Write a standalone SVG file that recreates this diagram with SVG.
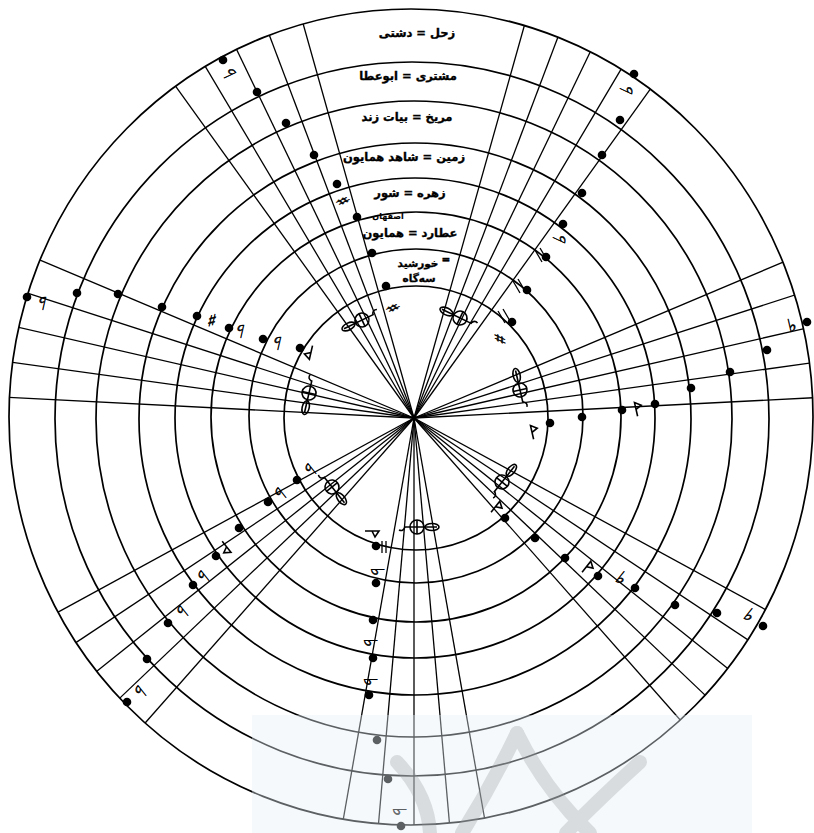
<svg xmlns="http://www.w3.org/2000/svg" width="814" height="833" viewBox="0 0 814 833">
<style>
.ring{fill:none;stroke:#000;stroke-width:1.7}
.st{stroke:#000;stroke-width:1.3;fill:none}
.lab{font-family:"DejaVu Sans",sans-serif;font-weight:bold;font-size:11.5px;fill:#000;stroke:#000;stroke-width:0.35;text-anchor:middle}
.acc{font-family:"DejaVu Sans",sans-serif;font-weight:bold;font-size:18px;fill:#000;stroke:#000;stroke-width:0.5;text-anchor:middle;dominant-baseline:central}
.n{fill:#000}
.cl{fill:none;stroke:#000;stroke-width:1.6}
.k{fill:none;stroke:#000;stroke-width:1.6}
.lg{stroke:#000;stroke-width:1.3}
</style>
<defs>
<clipPath id="outer"><ellipse cx="411" cy="417" rx="402" ry="408"/></clipPath>
<g id="clef">
<circle cx="0" cy="0" r="7" class="cl"/>
<line x1="-7" y1="0" x2="7" y2="0" class="cl"/>
<line x1="0" y1="-13" x2="0" y2="20" class="cl"/>
<ellipse cx="0" cy="15" rx="3.5" ry="7" class="cl"/>
<path d="M0,-12 q-5,-2 -3,-6" class="cl"/>
</g>
<path id="kor" d="M-2,7 V-7 L4,-3 L-2,0" class="k"/>
</defs>
<rect width="814" height="833" fill="#fff"/>
<g id="rings">
<circle class="ring" cx="416" cy="418" r="132"/>
<circle class="ring" cx="416" cy="416" r="167"/>
<circle class="ring" cx="416" cy="417" r="205"/>
<circle class="ring" cx="415" cy="418" r="240"/>
<circle class="ring" cx="415" cy="419" r="276"/>
<circle class="ring" cx="414" cy="419" r="318"/>
<circle class="ring" cx="412" cy="419" r="357"/>
<ellipse class="ring" cx="411" cy="417" rx="402" ry="408"/>
</g>
<g id="connectors" clip-path="url(#outer)">
<g id="staff-top-right">
<line class="st" x1="414" y1="418" x2="527.7" y2="13.7"/>
<line class="st" x1="414" y1="418" x2="562.5" y2="25.1"/>
<line class="st" x1="414" y1="418" x2="596.2" y2="39.5"/>
<line class="st" x1="414" y1="418" x2="628.4" y2="56.8"/>
<line class="st" x1="414" y1="418" x2="659.1" y2="76.9"/>
</g>
<g id="staff-right">
<line class="st" x1="414" y1="418" x2="800.9" y2="254.6"/>
<line class="st" x1="414" y1="418" x2="813.7" y2="288.9"/>
<line class="st" x1="414" y1="418" x2="823.4" y2="324.2"/>
<line class="st" x1="414" y1="418" x2="830.0" y2="360.3"/>
<line class="st" x1="414" y1="418" x2="833.5" y2="396.7"/>
</g>
<g id="staff-lower-right">
<line class="st" x1="414" y1="418" x2="782.8" y2="619.1"/>
<line class="st" x1="414" y1="418" x2="763.8" y2="650.4"/>
<line class="st" x1="414" y1="418" x2="742.2" y2="680.0"/>
<line class="st" x1="414" y1="418" x2="718.2" y2="707.6"/>
<line class="st" x1="414" y1="418" x2="691.7" y2="733.0"/>
</g>
<g id="staff-bottom">
<line class="st" x1="414" y1="418" x2="486.9" y2="831.6"/>
<line class="st" x1="414" y1="418" x2="450.6" y2="836.4"/>
<line class="st" x1="414" y1="418" x2="414" y2="838"/>
<line class="st" x1="414" y1="418" x2="377.4" y2="836.4"/>
<line class="st" x1="414" y1="418" x2="341.1" y2="831.6"/>
</g>
<g id="staff-lower-left">
<line class="st" x1="414" y1="418" x2="45.2" y2="619.1"/>
<line class="st" x1="414" y1="418" x2="64.2" y2="650.4"/>
<line class="st" x1="414" y1="418" x2="85.8" y2="680.0"/>
<line class="st" x1="414" y1="418" x2="109.8" y2="707.6"/>
<line class="st" x1="414" y1="418" x2="136.3" y2="733.0"/>
</g>
<g id="staff-left">
<line class="st" x1="414" y1="418" x2="27.1" y2="254.6"/>
<line class="st" x1="414" y1="418" x2="14.3" y2="288.9"/>
<line class="st" x1="414" y1="418" x2="4.6" y2="324.2"/>
<line class="st" x1="414" y1="418" x2="-2.0" y2="360.3"/>
<line class="st" x1="414" y1="418" x2="-5.5" y2="396.7"/>
</g>
<g id="staff-top-left">
<line class="st" x1="414" y1="418" x2="300.3" y2="13.7"/>
<line class="st" x1="414" y1="418" x2="265.5" y2="25.1"/>
<line class="st" x1="414" y1="418" x2="231.8" y2="39.5"/>
<line class="st" x1="414" y1="418" x2="199.6" y2="56.8"/>
<line class="st" x1="414" y1="418" x2="168.9" y2="76.9"/>
</g>
</g>
<g id="labels">
<text class="lab" x="417" y="37">زحل = دشتی</text>
<text class="lab" x="408" y="80">مشتری = ابوعطا</text>
<text class="lab" x="407" y="121">مریخ = بیات زند</text>
<text class="lab" x="404" y="161">زمین = شاهد همایون</text>
<text class="lab" x="410" y="197">زهره = شور</text>
<text class="lab" x="388" y="219" style="font-size:8px;stroke-width:0.1">اصفهان</text>
<text class="lab" x="410" y="237">عطارد = همایون</text>
<text class="lab" x="418" y="267" style="font-size:10.5px">خورشید</text>
<text class="lab" x="446" y="263" style="font-size:10.5px">=</text>
<text class="lab" x="419" y="282" style="font-size:10.5px">سه‌گاه</text>
</g>
<g id="clefs">
<use href="#clef" transform="translate(362,320) rotate(64.3)"/>
<use href="#clef" transform="translate(460,318) rotate(115.7)"/>
<use href="#clef" transform="translate(520,390) rotate(167.1)"/>
<use href="#clef" transform="translate(502,482) rotate(218.6)"/>
<use href="#clef" transform="translate(417,527) rotate(270)"/>
<use href="#clef" transform="translate(332,487) rotate(321.4)"/>
<use href="#clef" transform="translate(309,393) rotate(12.9)"/>
</g>
<g id="notes">
<g id="notes-top-left">
<circle class="n" cx="223" cy="60" r="4.3"/><circle class="n" cx="257" cy="92" r="4.3"/><circle class="n" cx="286" cy="123" r="4.3"/><circle class="n" cx="314" cy="155" r="4.3"/><circle class="n" cx="337" cy="184" r="4.3"/><circle class="n" cx="357" cy="217" r="4.3"/><circle class="n" cx="372" cy="253" r="4.3"/><circle class="n" cx="386" cy="286" r="4.3"/>
<text class="acc" transform="translate(229,73) rotate(244.3)">♭</text>
<text class="acc" transform="translate(343,201) rotate(244.3)">♯</text>
<text class="acc" transform="translate(393,308) rotate(244.3)">♯</text>
</g>
<g id="notes-top-right">
<circle class="n" cx="634" cy="74" r="4.3"/><circle class="n" cx="620" cy="120" r="4.3"/><circle class="n" cx="602" cy="155" r="4.3"/><circle class="n" cx="582" cy="193" r="4.3"/><circle class="n" cx="563" cy="224" r="4.3"/><circle class="n" cx="546" cy="257" r="4.3"/><circle class="n" cx="527" cy="290" r="4.3"/><circle class="n" cx="512" cy="322" r="4.3"/>
<text class="acc" transform="translate(627,89) rotate(-64.3)">♭</text>
<text class="acc" transform="translate(560,238) rotate(-64.3)">♭</text>
<text class="acc" transform="translate(500,339) rotate(-64.3)">♯</text>
<line class="lg" x1="535" y1="250" x2="542" y2="262"/><line class="lg" x1="540" y1="248" x2="547" y2="260"/>
<line class="lg" x1="513" y1="281" x2="520" y2="293"/><line class="lg" x1="518" y1="279" x2="525" y2="291"/>
<line class="lg" x1="498" y1="311" x2="505" y2="323"/><line class="lg" x1="503" y1="309" x2="510" y2="321"/>
</g>
<g id="notes-right">
<circle class="n" cx="807" cy="322" r="4.3"/><circle class="n" cx="767" cy="350" r="4.3"/><circle class="n" cx="730" cy="372" r="4.3"/><circle class="n" cx="691" cy="388" r="4.3"/><circle class="n" cx="655" cy="404" r="4.3"/><circle class="n" cx="622" cy="410" r="4.3"/><circle class="n" cx="582" cy="417" r="4.3"/><circle class="n" cx="550" cy="423" r="4.3"/>
<text class="acc" transform="translate(792,325) rotate(-12.9)">♭</text>
<use href="#kor" transform="translate(638,409) rotate(-12.9)"/>
<use href="#kor" transform="translate(534,432) rotate(-12.9)"/>
</g>
<g id="notes-lower-right">
<circle class="n" cx="505" cy="518" r="4.3"/><circle class="n" cx="535" cy="538" r="4.3"/><circle class="n" cx="565" cy="558" r="4.3"/><circle class="n" cx="598" cy="576" r="4.3"/><circle class="n" cx="635" cy="588" r="4.3"/><circle class="n" cx="675" cy="605" r="4.3"/><circle class="n" cx="717" cy="613" r="4.3"/><circle class="n" cx="763" cy="626" r="4.3"/>
<use href="#kor" transform="translate(497,508) rotate(38.6)"/>
<use href="#kor" transform="translate(588,568) rotate(38.6)"/>
<text class="acc" transform="translate(622,578) rotate(38.6)">♭</text>
<text class="acc" transform="translate(750,615) rotate(38.6)">♭</text>
</g>
<g id="notes-bottom">
<circle class="n" cx="376" cy="546" r="4.3"/><circle class="n" cx="376" cy="583" r="4.3"/><circle class="n" cx="373" cy="620" r="4.3"/><circle class="n" cx="373" cy="658" r="4.3"/><circle class="n" cx="369" cy="695" r="4.3"/><circle class="n" cx="377" cy="740" r="4.3"/><circle class="n" cx="388" cy="779" r="4.3"/><circle class="n" cx="401" cy="826" r="4.3"/>
<use href="#kor" transform="translate(372,533) rotate(90)"/>
<text class="acc" transform="translate(377,572) rotate(90)">♭</text>
<text class="acc" transform="translate(370,643) rotate(90)">♭</text>
<text class="acc" transform="translate(370,682) rotate(90)">♭</text>
<text class="acc" transform="translate(399,812) rotate(90)">♭</text>
<line class="lg" x1="382" y1="541" x2="382" y2="553"/><line class="lg" x1="386" y1="541" x2="386" y2="553"/>
</g>
<g id="notes-lower-left">
<circle class="n" cx="297" cy="480" r="4.3"/><circle class="n" cx="268" cy="502" r="4.3"/><circle class="n" cx="239" cy="528" r="4.3"/><circle class="n" cx="216" cy="556" r="4.3"/><circle class="n" cx="193" cy="585" r="4.3"/><circle class="n" cx="168" cy="623" r="4.3"/><circle class="n" cx="147" cy="659" r="4.3"/><circle class="n" cx="127" cy="702" r="4.3"/>
<text class="acc" transform="translate(310,470) rotate(141.4)">♭</text>
<text class="acc" transform="translate(280,494) rotate(141.4)">♭</text>
<use href="#kor" transform="translate(225,548) rotate(141.4)"/>
<text class="acc" transform="translate(203,577) rotate(141.4)">♭</text>
<text class="acc" transform="translate(182,612) rotate(141.4)">♭</text>
<text class="acc" transform="translate(140,692) rotate(141.4)">♭</text>
</g>
<g id="notes-left">
<circle class="n" cx="27" cy="297" r="4.3"/><circle class="n" cx="77" cy="293" r="4.3"/><circle class="n" cx="118" cy="294" r="4.3"/><circle class="n" cx="162" cy="307" r="4.3"/><circle class="n" cx="197" cy="316" r="4.3"/><circle class="n" cx="229" cy="328" r="4.3"/><circle class="n" cx="263" cy="339" r="4.3"/><circle class="n" cx="300" cy="348" r="4.3"/>
<text class="acc" transform="translate(42,303) rotate(192.9)">♭</text>
<text class="acc" transform="translate(212,320) rotate(192.9)">♯</text>
<text class="acc" transform="translate(240,331) rotate(192.9)">♭</text>
<text class="acc" transform="translate(277,343) rotate(192.9)">♭</text>
<use href="#kor" transform="translate(309,352) rotate(192.9)"/>
</g>
</g>
<g id="watermark">
<rect x="252" y="715" width="500" height="118" fill="#e6eff8" opacity="0.4"/>
<g fill="none" stroke="#9a9a9a" stroke-width="14" stroke-linecap="round" opacity="0.3">
<path d="M397,762 Q428,795 430,833"/>
<path d="M517,733 Q492,785 462,833"/>
<path d="M517,733 Q545,790 590,833"/>
<path d="M640,762 Q598,800 566,833"/>
</g>
</g>
</svg>
